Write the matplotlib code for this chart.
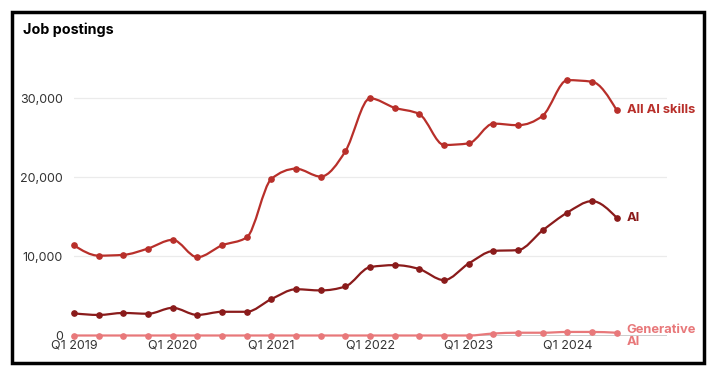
import numpy as np
from matplotlib import pyplot as plt
from matplotlib.path import Path
from matplotlib.patches import PathPatch, Rectangle

# Quarterly job postings, Q1 2019 .. Q3 2024
quarters = [f"Q{q} {y}" for y in range(2019, 2025) for q in range(1, 5)][:23]
all_ai_skills = [11400, 10100, 10200, 11000, 12100, 9900, 11400, 12400,
                 19800, 21100, 20100, 23300, 30000, 28800, 28000, 24100,
                 24300, 26800, 26600, 27800, 32300, 32100, 28500]
ai = [2800, 2600, 2850, 2750, 3500, 2600, 3000, 3000,
      4600, 5850, 5700, 6200, 8650, 8900, 8400, 7000,
      9100, 10700, 10800, 13300, 15550, 17000, 14900]
generative_ai = [0, 0, 0, 0, 0, 0, 0, 0,
                 0, 0, 0, 0, 0, 0, 0, 0,
                 0, 250, 350, 350, 450, 450, 350]

tick_pos = [0, 4, 8, 12, 16, 20]
tick_labels = [quarters[i] for i in tick_pos]
y_ticks = [0, 10000, 20000, 30000]

COLOR_ALL = "#b82f2a"
COLOR_AI = "#8a1b1b"
COLOR_GEN = "#e8787a"
FONT = "Inter"


def monotone_path(xs, ys):
    """Cubic bezier path through the points, like d3.curveMonotoneX."""
    xs = np.asarray(xs, float)
    ys = np.asarray(ys, float)
    n = len(xs)
    h = np.diff(xs)
    s = np.diff(ys) / h
    t = np.zeros(n)
    for i in range(1, n - 1):
        p = (s[i - 1] * h[i] + s[i] * h[i - 1]) / (h[i - 1] + h[i])
        t[i] = (np.sign(s[i - 1]) + np.sign(s[i])) * min(abs(s[i - 1]), abs(s[i]), 0.5 * abs(p))
    t[0] = (3 * s[0] - t[1]) / 2
    t[-1] = (3 * s[-1] - t[-2]) / 2
    verts = [(xs[0], ys[0])]
    codes = [Path.MOVETO]
    for i in range(n - 1):
        dx = (xs[i + 1] - xs[i]) / 3
        verts += [(xs[i] + dx, ys[i] + dx * t[i]),
                  (xs[i + 1] - dx, ys[i + 1] - dx * t[i + 1]),
                  (xs[i + 1], ys[i + 1])]
        codes += [Path.CURVE4] * 3
    return Path(verts, codes)


plt.rcParams["font.family"] = [FONT, "DejaVu Sans"]

fig = plt.figure(figsize=(7.21, 3.74), dpi=100, facecolor="w")
ax = fig.add_axes([74 / 721, (374 - 335.5) / 374, (667 - 74) / 721, 276.7 / 374])
ax.set_xlim(0, 24.04)
ax.set_ylim(0, 35000)

x = np.arange(len(quarters))
series = [(generative_ai, COLOR_GEN), (ai, COLOR_AI), (all_ai_skills, COLOR_ALL)]
for values, color in series:
    ax.add_patch(PathPatch(monotone_path(x, values), facecolor="none",
                           edgecolor=color, lw=1.6, zorder=3, clip_on=False))
    ax.plot(x, values, "o", color=color, ms=3.8, zorder=4, clip_on=False)

for yt in y_ticks[1:]:
    ax.axhline(yt, color="#ebebeb", lw=0.9, zorder=1)
ax.axhline(0, color="black", lw=1.0, zorder=2)

for side in ax.spines:
    ax.spines[side].set_visible(False)
ax.set_yticks(y_ticks)
ax.set_yticklabels([f"{v:,}" for v in y_ticks], fontsize=9, color="#333333")
ax.set_xticks(tick_pos)
ax.set_xticklabels(tick_labels, fontsize=9, color="#333333")
ax.tick_params(axis="y", length=0, pad=8)
ax.tick_params(axis="x", length=0, pad=3)

# series labels at line ends
ax.text(22.4, all_ai_skills[-1], "All AI skills", color=COLOR_ALL,
        fontsize=9.3, fontweight="bold", va="center", ha="left")
ax.text(22.4, ai[-1], "AI", color=COLOR_AI,
        fontsize=9.3, fontweight="bold", va="center", ha="left")
ax.text(22.4, generative_ai[-1] - 400, "Generative\nAI", color=COLOR_GEN,
        fontsize=9.3, fontweight="bold", va="center", ha="left", linespacing=0.95)

fig.text(23 / 721, 1 - 30 / 374, "Job postings", fontsize=10.3, fontweight="bold",
         va="center", ha="left", color="black")

fig.patches.append(Rectangle((12 / 721, (374 - 363) / 374), 692 / 721, 351 / 374,
                             transform=fig.transFigure, fill=False,
                             edgecolor="black", lw=2.5))

plt.savefig("out.png", dpi=100)
